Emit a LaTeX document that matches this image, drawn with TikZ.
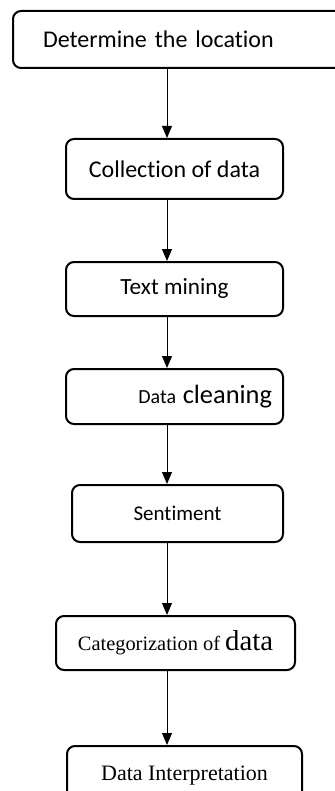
\documentclass[tikz,border=0pt]{standalone}
\usepackage{fontspec}
\setmainfont{Carlito}[Ligatures=NoCommon]
\newfontfamily\timesfont{Liberation Serif}
\usetikzlibrary{arrows.meta}

\begin{document}
\begin{tikzpicture}[x=1pt,y=-1pt,-{Triangle[length=6pt,width=5pt]},line width=0.5pt]
    \tikzstyle{block}=[rectangle,rounded corners=4pt,draw=black,line width=1pt,inner sep=0pt,minimum width=108.5pt,minimum height=27.5pt]
    \useasboundingbox (0,0) rectangle (167,395.5);

    \node[block,minimum width=166pt,minimum height=28.5pt,text width=136pt,inner xsep=15pt,align=left,font=\fontsize{12}{14}\selectfont] (B-1) at (89.5,19.75) {Determine the location};
    \node[block,minimum height=30pt,font=\fontsize{12}{14}\selectfont] (B-2) at (87.25,84.5) {Collection of data};
    \node[block,minimum height=27pt,font=\fontsize{11.6}{14}\selectfont] (B-3) at (87.25,144.5) {Text mining};
    \node[block,text width=97.5pt,inner xsep=5.5pt,align=right] (B-4) at (87.25,198.25) {{\fontsize{10}{12}\selectfont Data} {\fontsize{13.2}{15}\selectfont cleaning}};
    \node[block,minimum width=105.5pt,minimum height=28.5pt,font=\fontsize{10.5}{12}\selectfont] (B-5) at (88.75,256.75) {Sentiment};
    \node[block,minimum width=119.5pt,minimum height=27pt,font=\timesfont] (B-6) at (87.75,321.5) {{\fontsize{10.2}{12}\selectfont Categorization of} {\fontsize{14.4}{16}\selectfont data}};
    \node[block,minimum width=117.5pt,minimum height=30pt,font=\timesfont\fontsize{11}{13}\selectfont] (B-7) at (92.25,388) {Data Interpretation};

    \coordinate (axis) at (83.5,0);
    \foreach \from/\to in {1/2, 2/3, 3/4, 4/5, 5/6, 6/7}
        \draw (B-\from.south -| axis) -- (B-\to.north -| axis);
\end{tikzpicture}
\end{document}
